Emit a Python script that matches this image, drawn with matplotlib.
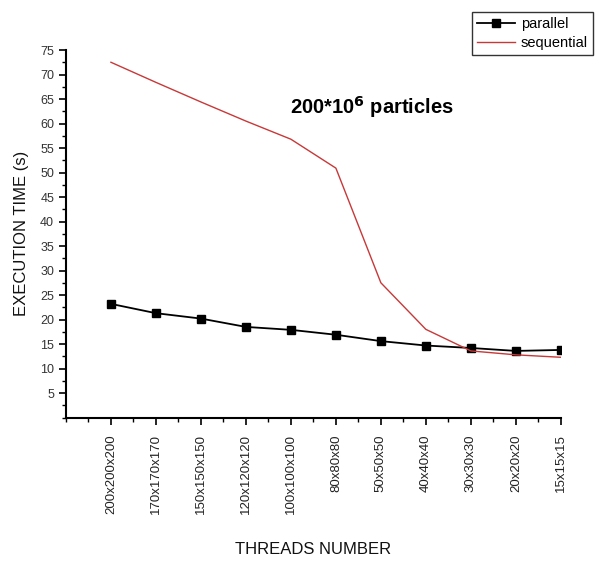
import matplotlib
matplotlib.use("Agg")
import matplotlib.pyplot as plt
import numpy as np
from matplotlib.ticker import MultipleLocator

plt.rcParams['font.family'] = ['Liberation Sans', 'DejaVu Sans']

# datos
categorias = ["200x200x200", "170x170x170", "150x150x150", "120x120x120",
              "100x100x100", "80x80x80", "50x50x50", "40x40x40",
              "30x30x30", "20x20x20", "15x15x15"]
paralelo = [23.2, 21.3, 20.2, 18.5, 17.9, 16.9, 15.6, 14.7, 14.2, 13.6, 13.8]
secuencial = [72.5, 68.4, 64.4, 60.5, 56.8, 50.9, 27.5, 18.0, 13.6, 12.8, 12.3]

x = np.arange(1, len(categorias) + 1)

fig = plt.figure(figsize=(6.05, 5.62), dpi=100)
ax = fig.add_axes([0.109, 0.257, 0.818, 0.654])

ax.plot(x, paralelo, color='black', lw=1.3, marker='s', markersize=5.5,
        label='parallel')
ax.plot(x, secuencial, color='#c83838', lw=1.0, label='sequential')

ax.set_xlim(0, 11)
ax.set_ylim(0, 75)
ax.set_xticks(x)
ax.set_xticklabels(categorias, rotation=90, fontsize=9.5, color='#222222')
ax.xaxis.set_minor_locator(MultipleLocator(0.5))
ax.yaxis.set_minor_locator(MultipleLocator(2.5))
ax.set_yticks(np.arange(5, 80, 5))
ax.tick_params(axis='y', labelsize=9, colors='#333333')
ax.tick_params(which='major', length=5, width=1.2, color='black')
ax.tick_params(which='minor', length=3, width=1.0, color='black')
ax.tick_params(axis='x', pad=7)

for s in ['top', 'right']:
    ax.spines[s].set_visible(False)
for s in ['left', 'bottom']:
    ax.spines[s].set_linewidth(1.5)

ax.set_xlabel("THREADS NUMBER", fontsize=12, labelpad=20, color='#111111')
ax.set_ylabel("EXECUTION TIME (s)", fontsize=12, labelpad=8, color='#111111')

fig.text(290 / 605, 1 - 107 / 562, r"200*10$^{\mathbf{6}}$ particles",
         fontsize=14.5, fontweight='bold', va='center', ha='left')

leg = fig.legend(loc='upper left', bbox_to_anchor=(472 / 605, 1 - 12 / 562),
                 fontsize=10.5, frameon=True, fancybox=False, borderpad=0.35,
                 handlelength=2.6, handletextpad=0.4, labelspacing=0.35,
                 borderaxespad=0)
leg.get_frame().set_edgecolor('black')
leg.get_frame().set_linewidth(1.0)

fig.savefig("out.png", dpi=100)
